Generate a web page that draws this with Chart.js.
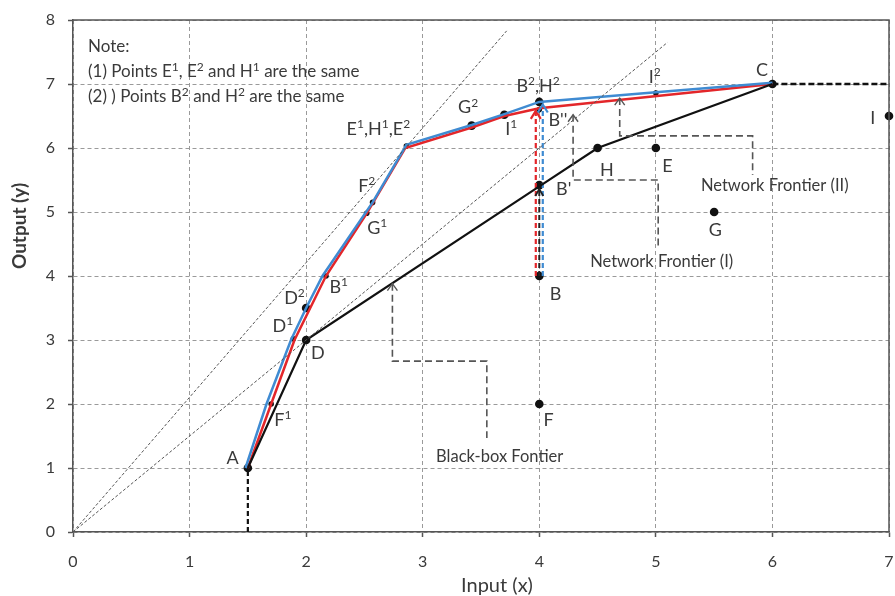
<!DOCTYPE html>
<html><head><meta charset="utf-8">
<script src="https://cdn.jsdelivr.net/npm/chart.js@4.4.0/dist/chart.umd.min.js"></script>
<style>html,body{margin:0;padding:0;background:#fff}#wrap{width:895px;height:596px;position:relative}</style>
</head><body><div id="wrap"><canvas id="c"></canvas></div>
<script>
// ---- data ----
const xTickValues = [0,1,2,3,4,5,6,7];
const yTickValues = [0,1,2,3,4,5,6,7,8];
const ray1X = [0, 3.72], ray1Y = [0, 7.83];
const ray2X = [0, 5.1],  ray2Y = [0, 7.65];
const blackX = [1.5, 2, 4, 4.5, 6];
const blackY = [1, 3, 5.4, 6, 7];
const redX = [1.5, 1.7, 1.9, 2.17, 2.52, 2.85, 3.42, 3.7, 4.0, 6.0];
const redY = [1, 2, 3, 4, 4.98, 6, 6.32, 6.5, 6.62, 7];
const blueX = [1.48, 1.66, 1.87, 2.0, 2.14, 2.57, 2.86, 3.42, 3.7, 4.0, 5.0, 6.0];
const blueY = [1, 2, 3, 3.5, 4, 5.15, 6.05, 6.36, 6.53, 6.72, 6.87, 7.02];
const bigDotX = [1.5, 2, 4, 4, 4.5, 5, 5.5, 4, 6, 7, 2.0, 4.0, 3.42, 3.7];
const bigDotY = [1, 3, 4, 5.42, 6, 6, 5, 2, 7, 6.5, 3.5, 6.72, 6.35, 6.52];
const smallDotX = [1.7, 1.89, 2.17, 2.52, 2.57, 2.86, 5.0, 4.0];
const smallDotY = [2, 3.02, 4, 4.98, 5.15, 6.03, 6.86, 6.6];
const aDropX = [1.5, 1.5], aDropY = [0, 1];
const cExtX = [6, 7], cExtY = [7, 7];
const redArrowX = [3.97, 3.97], redArrowY = [4, 6.58];
const blueArrowX = [4.03, 4.03], blueArrowY = [4, 6.68];
const blackArrowX = [4, 4], blackArrowY = [4, 5.36];
const bbCalloutX = [2.74, 2.74, 3.55, 3.55], bbCalloutY = [3.88, 2.67, 2.67, 1.47];
const n1CalloutX = [4.29, 4.29, 5.02, 5.02], n1CalloutY = [6.52, 5.5, 5.5, 4.44];
const n2CalloutX = [4.69, 4.69, 5.83, 5.83], n2CalloutY = [6.78, 6.19, 6.19, 5.58];
const labelTexts = ["A","D","D¹","D²","B¹","G¹","F²","E¹,H¹,E²","G²","I¹","B²,H²","B''","I²","C","I","H","E","B'","G","B","F","F¹"];
const labelX = [1.37, 2.10, 1.80, 1.90, 2.28, 2.61, 2.52, 2.62, 3.39, 3.76, 3.99, 4.16, 4.99, 5.91, 6.86, 4.58, 5.10, 4.21, 5.51, 4.14, 4.08, 1.80];
const labelY = [1.15, 2.80, 3.21, 3.66, 3.83, 4.74, 5.40, 6.29, 6.63, 6.29, 6.96, 6.44, 7.11, 7.22, 6.47, 5.66, 5.72, 5.35, 4.72, 3.72, 1.75, 1.75];
const calloutTexts = ["Black-box Fontier", "Network Frontier (I)", "Network Frontier (II)"];
const calloutX = [3.66, 5.05, 6.02];
const calloutY = [1.18, 4.22, 5.41];
const noteLines = ["Note:", "(1) Points E¹, E² and H¹ are the same", "(2) ) Points B² and H² are the same"];
const xTitle = "Input (x)", yTitle = "Output (y)";

const pts = (xs, ys) => xs.map((x, i) => ({x, y: ys[i]}));
const FONT = "Lato, 'Open Sans', sans-serif";
const TXT = "#3a3a3a";

function line(xs, ys, color, width, dash) {
  return {data: pts(xs, ys), showLine: true, borderColor: color, borderWidth: width,
    borderDash: dash || [], pointRadius: 0, fill: false, tension: 0, clip: false};
}

const datasets = [
  line(ray1X, ray1Y, "#555", 1, [3, 2]),
  line(ray2X, ray2Y, "#555", 1, [3, 2]),
  line(bbCalloutX, bbCalloutY, "#555", 1.6, [7, 4]),
  line(n1CalloutX, n1CalloutY, "#555", 1.6, [7, 4]),
  line(n2CalloutX, n2CalloutY, "#555", 1.6, [7, 4]),
  line(blackX, blackY, "#111", 2.2),
  line(blueX, blueY, "#3f8bd2", 2.5),
  line(redX, redY, "#e3262a", 2.5),
  line(aDropX, aDropY, "#111", 2.2, [5, 3]),
  line(cExtX, cExtY, "#111", 2.5, [6, 3]),
  line(redArrowX, redArrowY, "#e3262a", 2.2, [5, 3]),
  line(blueArrowX, blueArrowY, "#3f8bd2", 2.2, [5, 3]),
  line(blackArrowX, blackArrowY, "#222", 2, [5, 3]),
  {data: pts(smallDotX, smallDotY), pointRadius: 2.8, pointBackgroundColor: "#111", pointBorderWidth: 0, showLine: false, clip: false},
  {data: pts(bigDotX, bigDotY), pointRadius: 4.3, pointBackgroundColor: "#111", pointBorderWidth: 0, showLine: false, clip: false}
];

function chevron(ctx, x, y, color, w, h, lw) {
  ctx.save();
  ctx.strokeStyle = color; ctx.lineWidth = lw; ctx.setLineDash([]);
  ctx.beginPath();
  ctx.moveTo(x - w, y + h); ctx.lineTo(x, y); ctx.lineTo(x + w, y + h);
  ctx.stroke();
  ctx.restore();
}

// draw text with ¹ ² rendered as real raised small digits
const SUP = {"¹": "1", "²": "2"};
function richText(ctx, text, x, y, size, align, weight) {
  const segs = [];
  for (const ch of text) {
    const sup = SUP[ch] !== undefined;
    const c = sup ? SUP[ch] : ch;
    if (segs.length && segs[segs.length - 1].sup === sup) segs[segs.length - 1].t += c;
    else segs.push({t: c, sup});
  }
  const w = weight || "";
  const fN = `${w} ${size}px ${FONT}`, fS = `${w} ${Math.round(size * 0.68)}px ${FONT}`;
  let total = 0;
  segs.forEach(s => { ctx.font = s.sup ? fS : fN; s.w = ctx.measureText(s.t).width; total += s.w; });
  let cx = align === "left" ? x : x - total / 2;
  ctx.textAlign = "left"; ctx.textBaseline = "middle";
  segs.forEach(s => {
    ctx.font = s.sup ? fS : fN;
    ctx.fillText(s.t, cx, s.sup ? y - size * 0.28 : y);
    cx += s.w;
  });
}

const decor = {
  id: "decor",
  afterDatasetsDraw(chart) {
    const {ctx, chartArea: a, scales: {x, y}} = chart;
    ctx.save();
    ctx.strokeStyle = "#555"; ctx.lineWidth = 1.5; ctx.setLineDash([]);
    ctx.beginPath();
    ctx.moveTo(a.left, a.top); ctx.lineTo(a.right, a.top); ctx.lineTo(a.right, a.bottom);
    ctx.stroke();
    ctx.restore();
    chevron(ctx, x.getPixelForValue(redArrowX[1]), y.getPixelForValue(redArrowY[1]), "#e3262a", 5, 8, 2.2);
    chevron(ctx, x.getPixelForValue(blueArrowX[1]), y.getPixelForValue(blueArrowY[1]), "#3f8bd2", 5, 8, 2.2);
    chevron(ctx, x.getPixelForValue(blackArrowX[1]), y.getPixelForValue(blackArrowY[1]), "#222", 4, 7, 1.8);
    chevron(ctx, x.getPixelForValue(bbCalloutX[0]), y.getPixelForValue(bbCalloutY[0]), "#555", 5, 7, 1.4);
    chevron(ctx, x.getPixelForValue(n1CalloutX[0]), y.getPixelForValue(n1CalloutY[0]), "#555", 5, 7, 1.4);
    chevron(ctx, x.getPixelForValue(n2CalloutX[0]), y.getPixelForValue(n2CalloutY[0]), "#555", 5, 7, 1.4);
    ctx.save();
    ctx.fillStyle = TXT;
    labelTexts.forEach((t, i) => richText(ctx, t, x.getPixelForValue(labelX[i]), y.getPixelForValue(labelY[i]), 18, "center"));
    calloutTexts.forEach((t, i) => richText(ctx, t, x.getPixelForValue(calloutX[i]), y.getPixelForValue(calloutY[i]), 16.5, "center"));
    noteLines.forEach((t, i) => richText(ctx, t, a.left + 15, a.top + 27 + i * 25, 17, "left"));
    richText(ctx, xTitle, 497, 586, 20, "center");
    ctx.translate(20, 226); ctx.rotate(-Math.PI / 2);
    richText(ctx, yTitle, 0, 0, 19, "center", "bold");
    ctx.restore();
  }
};

new Chart(document.getElementById("c"), {
  type: "scatter",
  data: {datasets},
  plugins: [decor],
  options: {
    responsive: true, maintainAspectRatio: false, animation: false,
    layout: {padding: {top: 20, right: 6, left: 0, bottom: 0}},
    plugins: {legend: {display: false}, tooltip: {enabled: false}},
    elements: {point: {hoverRadius: 0}},
    scales: {
      x: {
        type: "linear", min: 0, max: 7,
        afterBuildTicks: s => { s.ticks = xTickValues.map(v => ({value: v})); },
        afterFit: s => { s.height = 64; s.paddingRight = 0; s.paddingLeft = 0; },
        grid: {color: "#9a9a9a", lineWidth: 1, tickColor: "#555", tickLength: 5, tickBorderDash: [], tickWidth: 1.5},
        border: {display: true, color: "#555", width: 1.5, dash: [4, 3]},
        ticks: {color: TXT, font: {size: 16, family: FONT}, padding: 15}
      },
      y: {
        type: "linear", min: 0, max: 8,
        afterBuildTicks: s => { s.ticks = yTickValues.map(v => ({value: v})); },
        afterFit: s => { s.width = 73; s.paddingTop = 0; s.paddingBottom = 0; },
        grid: {color: "#9a9a9a", lineWidth: 1, tickColor: "#555", tickLength: 5, tickBorderDash: [], tickWidth: 1.5},
        border: {display: true, color: "#555", width: 1.5, dash: [4, 3]},
        ticks: {color: TXT, font: {size: 16, family: FONT}, padding: 13}
      }
    }
  }
});
</script>
</body></html>
